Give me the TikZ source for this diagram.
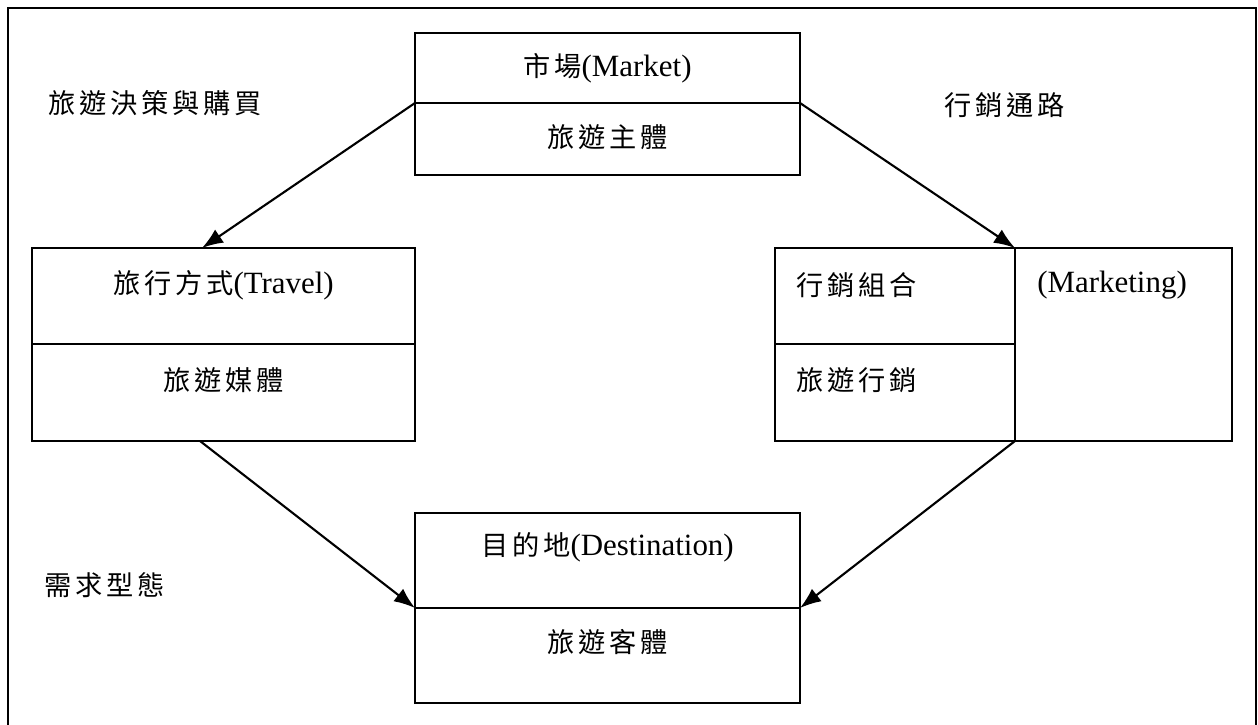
\documentclass[tikz,border=0pt]{standalone}
\usepackage{fontspec}
\setmainfont{Liberation Serif}
\newfontfamily\cjk[Scale=0.88,LetterSpace=14]{Noto Sans CJK TC}
\usetikzlibrary{arrows.meta}

\tikzset{
  part/.style={draw, line width=1pt, inner sep=0pt, outer sep=0pt},
  txt/.style={font=\fontsize{17.6}{21}\selectfont, inner sep=0pt},
  flow/.style={->, >={Latex[length=12pt,width=9pt]}, line width=1.2pt},
}

\begin{document}
\begin{tikzpicture}
    \useasboundingbox (0,0) rectangle (25.16,-14.5);
    \draw[line width=1.4pt] (0.16,-0.16) rectangle (25.12,-14.58);

    % market
    \node[part, minimum width=7.7cm, minimum height=1.4cm] (mkt) at (12.15,-1.36) {};
    \node[part, minimum width=7.7cm, minimum height=1.44cm] (mktsub) at (12.15,-2.78) {};
    \node[txt] (mkttxt) at (12.15,-1.36) {{\cjk 市場}(Market)};
    \node[txt] (mktsubtxt) at (12.15,-2.74) {\cjk 旅遊主體};

    % travel
    \node[part, minimum width=7.66cm, minimum height=1.92cm] (trv) at (4.47,-5.92) {};
    \node[part, minimum width=7.66cm, minimum height=1.94cm] (trvsub) at (4.47,-7.85) {};
    \node[txt] (trvtxt) at (4.47,-5.70) {{\cjk 旅行方式}(Travel)};
    \node[txt] (trvsubtxt) at (4.47,-7.60) {\cjk 旅遊媒體};

    % marketing
    \node[part, minimum width=4.8cm, minimum height=1.92cm] (mix) at (17.90,-5.92) {};
    \node[part, minimum width=4.8cm, minimum height=1.94cm] (mixsub) at (17.90,-7.85) {};
    \node[part, minimum width=4.34cm, minimum height=3.86cm] (mkg) at (22.47,-6.89) {};
    \node[txt, anchor=west] (mixtxt) at (15.92,-5.70) {\cjk 行銷組合};
    \node[txt, anchor=west] (mixsubtxt) at (15.92,-7.60) {\cjk 旅遊行銷};
    \node[txt, anchor=west] (mkgtxt) at (20.74,-5.70) {(Marketing)};

    % destination
    \node[part, minimum width=7.7cm, minimum height=1.9cm] (dst) at (12.15,-11.21) {};
    \node[part, minimum width=7.7cm, minimum height=1.9cm] (dstsub) at (12.15,-13.11) {};
    \node[txt] (dsttxt) at (12.15,-10.94) {{\cjk 目的地}(Destination)};
    \node[txt] (dstsubtxt) at (12.15,-12.84) {\cjk 旅遊客體};

    % side labels
    \node[txt, anchor=west] (buy) at (0.97,-2.06) {\cjk 旅遊決策與購買};
    \node[txt, anchor=west] (chan) at (18.88,-2.10) {\cjk 行銷通路};
    \node[txt, anchor=west] (dem) at (0.88,-11.70) {\cjk 需求型態};

    \draw[flow] (mkt.south west) -- ([xshift=-0.43cm]trv.north);
    \draw[flow] (mkt.south east) -- (mix.north east);
    \draw[flow] ([xshift=-0.47cm]trvsub.south) -- (dst.south west);
    \draw[flow] (mixsub.south east) -- (dst.south east);
\end{tikzpicture}
\end{document}
